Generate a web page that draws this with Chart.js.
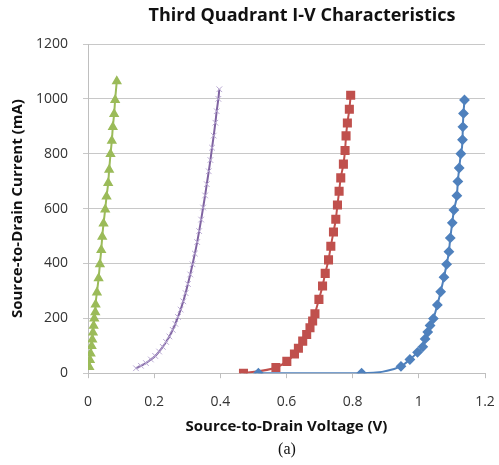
<!DOCTYPE html>
<html>
<head>
<meta charset="utf-8">
<script src="https://cdn.jsdelivr.net/npm/chart.js@4/dist/chart.umd.min.js"></script>
<style>
  html, body { margin: 0; padding: 0; background: #fff; overflow: hidden; }
  #wrap { position: relative; width: 499px; height: 465px; }
  #ivChart { display: block; }
  #title {
    position: absolute; left: 302px; top: 2px; transform: translateX(-50%);
    font: bold 18px 'Open Sans', 'Liberation Sans', sans-serif; color: #111; white-space: nowrap;
  }
  #caption {
    position: absolute; left: 287px; top: 440px; transform: translateX(-50%);
    font: 16px 'Liberation Serif', 'DejaVu Serif', serif; color: #111;
  }
</style>
</head>
<body>
<div id="wrap">
  <canvas id="ivChart"></canvas>
  <div id="title">Third Quadrant I-V Characteristics</div>
  <div id="caption">(a)</div>
</div>
<script>
"use strict";

// source-to-drain voltage (V) and current (mA) per curve
const blueV = [0.515, 0.827, 0.946, 0.973, 0.996, 1.012, 1.019, 1.027, 1.034, 1.044, 1.056, 1.066, 1.076, 1.084, 1.091, 1.095, 1.101, 1.106, 1.115, 1.118, 1.122, 1.127, 1.132, 1.133, 1.135, 1.138];
const blueI = [0, 0, 25, 50, 76, 96, 125, 150, 174, 199, 249, 297, 350, 397, 443, 493, 548, 595, 647, 699, 748, 800, 851, 898, 947, 996];

const redV = [0.470, 0.568, 0.601, 0.624, 0.636, 0.649, 0.661, 0.671, 0.679, 0.686, 0.698, 0.709, 0.717, 0.727, 0.734, 0.742, 0.749, 0.754, 0.759, 0.764, 0.772, 0.777, 0.780, 0.784, 0.790, 0.794];
const redI = [0, 21, 43, 70, 91, 117, 141, 166, 190, 217, 269, 318, 364, 413, 463, 515, 561, 613, 663, 712, 762, 812, 865, 912, 962, 1013];

const purpleV = [0.145, 0.160, 0.175, 0.190, 0.203, 0.215, 0.226, 0.236, 0.246, 0.256, 0.264, 0.272, 0.280, 0.288, 0.295, 0.302, 0.309, 0.316, 0.323, 0.330, 0.336, 0.342, 0.348, 0.354, 0.359, 0.365, 0.370, 0.375, 0.380, 0.385, 0.389, 0.394, 0.397];
const purpleI = [18, 27, 37, 50, 63, 79, 96, 114, 134, 158, 180, 205, 232, 262, 292, 325, 360, 397, 436, 478, 518, 560, 604, 648, 689, 736, 777, 822, 866, 913, 955, 1000, 1035];

const greenV = [0.004, 0.006, 0.008, 0.011, 0.013, 0.015, 0.017, 0.019, 0.022, 0.023, 0.027, 0.032, 0.036, 0.040, 0.043, 0.047, 0.052, 0.056, 0.061, 0.064, 0.068, 0.072, 0.075, 0.079, 0.082, 0.087];
const greenI = [23, 48, 72, 99, 123, 148, 173, 199, 222, 250, 294, 346, 397, 449, 497, 546, 597, 644, 693, 742, 799, 847, 897, 945, 996, 1064];

const xTicks = [0, 0.2, 0.4, 0.6, 0.8, 1, 1.2];
const yTicks = [0, 200, 400, 600, 800, 1000, 1200];

function pts(vs, is) {
    return vs.map((v, k) => ({ x: v, y: is[k] }));
}

const tickFont = { family: "'Open Sans', 'Liberation Sans', sans-serif", size: 14 };
const boldFont = { family: "'Open Sans', 'Liberation Sans', sans-serif", size: 15, weight: 'bold' };

new Chart(document.getElementById('ivChart'), {
    type: 'scatter',
    data: {
        datasets: [{
            data: pts(blueV, blueI),
            showLine: true,
            borderColor: '#4f81bd',
            backgroundColor: '#4f81bd',
            borderWidth: 2,
            pointStyle: 'rectRot',
            pointRadius: 4,
            cubicInterpolationMode: 'monotone'
        }, {
            data: pts(redV, redI),
            showLine: true,
            borderColor: '#c0504d',
            backgroundColor: '#c0504d',
            borderWidth: 2,
            pointStyle: 'rect',
            pointRadius: 5,
            cubicInterpolationMode: 'monotone'
        }, {
            data: pts(purpleV, purpleI),
            showLine: true,
            borderColor: '#8064a2',
            backgroundColor: '#8064a2',
            borderWidth: 2,
            pointStyle: 'crossRot',
            pointRadius: 4,
            pointBorderColor: '#b8a8d2',
            pointBorderWidth: 1,
            cubicInterpolationMode: 'monotone'
        }, {
            data: pts(greenV, greenI),
            showLine: true,
            borderColor: '#9bbb59',
            backgroundColor: '#9bbb59',
            borderWidth: 2,
            pointStyle: 'triangle',
            pointRadius: 4,
            cubicInterpolationMode: 'monotone'
        }]
    },
    options: {
        responsive: true,
        maintainAspectRatio: false,
        animation: false,
        layout: { padding: { left: 0, right: 0, top: 44, bottom: 29 } },
        plugins: {
            legend: { display: false },
            tooltip: { enabled: false }
        },
        scales: {
            x: {
                type: 'linear',
                min: 0,
                max: 1.2,
                afterBuildTicks: axis => { axis.ticks = xTicks.map(v => ({ value: v })); },
                afterFit: axis => { axis.paddingRight = 14; },
                ticks: { color: '#333', font: tickFont, padding: 15, maxRotation: 0, callback: v => String(v) },
                grid: { drawOnChartArea: false, drawTicks: true, tickLength: 5, color: '#bfbfbf' },
                border: { color: '#bfbfbf' },
                title: { display: true, text: 'Source-to-Drain Voltage (V)', color: '#111', font: boldFont, padding: { top: -7, bottom: 0 } }
            },
            y: {
                type: 'linear',
                min: 0,
                max: 1200,
                afterBuildTicks: axis => { axis.ticks = yTicks.map(v => ({ value: v })); },
                afterFit: axis => { axis.width = 88; },
                ticks: { color: '#333', font: tickFont, padding: 15, callback: v => String(v) },
                grid: { color: '#c8c8c8', tickLength: 5 },
                border: { color: '#bfbfbf' },
                title: { display: true, text: 'Source-to-Drain Current (mA)', color: '#111', font: boldFont, padding: { top: 9, bottom: 0 } }
            }
        }
    }
});
</script>
</body>
</html>
